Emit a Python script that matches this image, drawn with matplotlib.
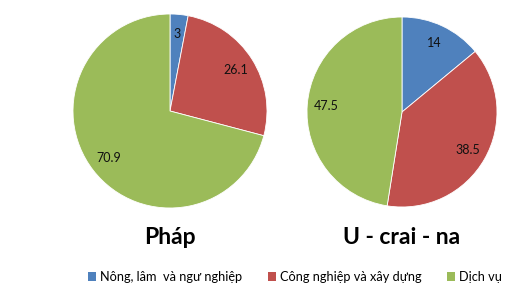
import matplotlib
matplotlib.use('Agg')
import matplotlib.pyplot as plt
from matplotlib.patches import Patch

# Datos
sectores = ['Nông, lâm  và ngư nghiệp', 'Công nghiệp và xây dựng', 'Dịch vụ']
colores = ['#4F81BD', '#C0504D', '#9BBB59']
phap = [3, 26.1, 70.9]
ukraina = [14, 38.5, 47.5]
titulos = ['Pháp', 'U - crai - na']

plt.rcParams['font.family'] = ['Lato', 'DejaVu Sans']

W, H = 514, 290
fig = plt.figure(figsize=(W / 100, H / 100), dpi=100)


def eje_px(cx, cy, r):
    # caja del pastel en pixeles (origen arriba a la izquierda)
    return fig.add_axes([(cx - r) / W, (H - cy - r) / H, 2 * r / W, 2 * r / H])


for (cx, cy, r), valores, titulo in zip([(170, 111, 97), (402, 112, 95)],
                                       [phap, ukraina], titulos):
    ax = eje_px(cx, cy, r)
    ax.pie(valores, colors=colores, startangle=90, counterclock=False,
           labels=[f'{v:g}' for v in valores], labeldistance=0.8,
           textprops={'fontsize': 9, 'color': '#111111', 'ha': 'center', 'va': 'center'},
           wedgeprops={'edgecolor': 'white', 'linewidth': 0.6})
    ax.set_xlim(-1, 1)
    ax.set_ylim(-1, 1)
    ax.set_aspect('equal')
    ax.axis('off')
    fig.text(cx / W, 1 - 237 / H, titulo, ha='center', va='center',
             fontsize=16.5, fontweight='bold')

handles = [Patch(facecolor=c, edgecolor='none') for c in colores]
fig.legend(handles, sectores, loc='center', bbox_to_anchor=(295 / W, 1 - 277 / H),
           ncol=3, frameon=False, fontsize=9.2, handlelength=0.65, handleheight=0.65,
           handletextpad=0.3, columnspacing=2.0)

fig.savefig('out.png', dpi=100)
